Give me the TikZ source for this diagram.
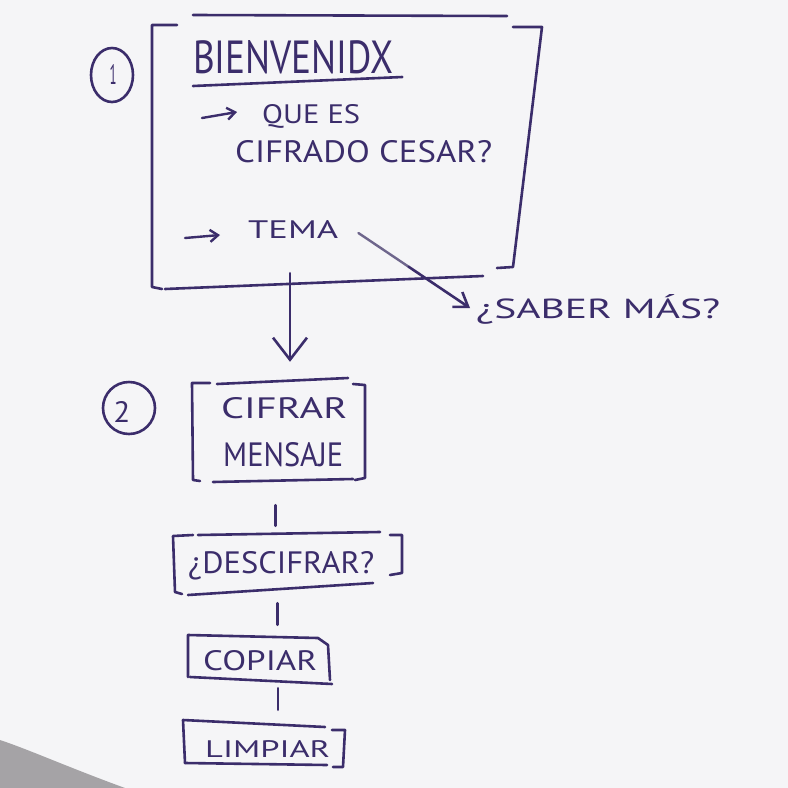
\documentclass[tikz,border=0pt]{standalone}
\usepackage{fontspec}
\setmainfont{PT Sans}
\usetikzlibrary{arrows.meta,calc}
\definecolor{ink}{RGB}{59,45,107}
\definecolor{fade}{RGB}{110,102,140}
\definecolor{paper}{RGB}{245,245,247}
\definecolor{shadow}{RGB}{165,163,166}
% a word of hand lettering, stretched to a given width and cap height
\newcommand\lettering[3]{\resizebox{#1pt}{#2pt}{#3}}
\begin{document}
\begin{tikzpicture}[x=1pt,y=-1pt,
  ink line/.style={draw=ink, line width=2.6pt, line cap=round, line join=round},
  hand/.style={inner sep=0pt, text=ink, anchor=base west},
  frame/.style={inner sep=0pt, draw=none},
  bullet/.style={ink line, line width=2.4pt, -{Straight Barb[length=8pt,width=12pt]}},
  link/.style={ink line}]
% paper
\fill[paper] (0,0) rectangle (788,788);
\fill[shadow] (0,740) .. controls (30,750) and (70,768) .. (125,788) -- (0,788) -- cycle;
\useasboundingbox (0,0) rectangle (788,788);

% ---------- screen 1: welcome ----------
\node[frame, minimum width=390pt, minimum height=271pt] (boxW) at (347,152.5) {};
\draw[ink line] (177,25) -- (152,25) -- (152,287) -- (162,289);
\draw[ink line] (193,15) -- (507,16);
\draw[ink line] (513,27) -- (542,27) -- (513,267) -- (497,268);
\draw[ink line] (165,289) -- (483,276);

\draw[ink line] (112,75) ellipse [x radius=21, y radius=27];
\node[hand, anchor=center] (one) at (113,74) {\lettering{7}{20}{1}};

\node[hand] (title) at (193,73) {\lettering{200}{33}{BIENVENIDX}};
\draw[ink line] ($(title.base west)+(0,13)$) -- ($(title.base east)+(9,4)$);

\coordinate (b1) at (202,118);
\coordinate (b1e) at (237,112);
\draw[bullet] (b1) -- (b1e);
\node[hand] (que) at (262,123) {\lettering{98}{19}{QUE ES}};
\node[hand] (cifrado) at (235,162) {\lettering{257}{22}{CIFRADO CESAR?}};

\coordinate (b2) at (185,238);
\coordinate (b2e) at (220,235);
\draw[bullet] (b2) -- (b2e);
\node[hand] (tema) at (248,238) {\lettering{90}{18}{TEMA}};

\node[hand] (saber) at (476,318) {\lettering{244}{24}{¿SABER MÁS?}};
\coordinate (temaTail) at ($(tema.east)+(20,4)$);
\coordinate (saberTip) at ($(saber.base west)+(-6,-10)$);
\draw[ink line, draw=fade, line width=2.4pt] (temaTail) -- ($(temaTail)!0.45!(saberTip)$);
\draw[ink line, -{Straight Barb[length=13pt,width=18pt]}]
  ($(temaTail)!0.45!(saberTip)$) -- (saberTip);

% ---------- screen 2: actions ----------
\draw[ink line] (129,408) circle [radius=26];
\node[hand, anchor=center] (two) at (122,412) {\lettering{17}{21}{2}};

\node[frame, minimum width=173pt, minimum height=102pt] (boxC) at (278.5,431) {};
\draw[ink line] (210,383) -- (192,383) -- (193,480) -- (200,481);
\draw[ink line] (217,384) -- (348,378);
\draw[ink line] (353,384) -- (365,385) -- (365,478) -- (355,480);
\draw[ink line] (213,482) -- (353,479);
\node[hand] (cifrar) at (221,418) {\lettering{126}{21}{CIFRAR}};
\node[hand] (mensaje) at (223,466) {\lettering{120}{24}{MENSAJE}};

\node[frame, minimum width=229pt, minimum height=63pt] (boxD) at (287.5,563.5) {};
\draw[ink line] (193,535) -- (173,536) -- (175,592) -- (182,594);
\draw[ink line] (198,535) -- (380,532);
\draw[ink line] (390,535) -- (402,535) -- (402,573) -- (390,575);
\draw[ink line] (188,595) -- (373,583);
\node[hand] (descifrar) at (188,573) {\lettering{186}{22}{¿DESCIFRAR?}};

\node[frame, minimum width=143pt, minimum height=48pt] (boxCo) at (259.5,659) {};
\draw[ink line] (188,677) -- (188,635) -- (318,638) -- (328,645) -- (330,680);
\draw[ink line] (190,677) -- (332,684);
\node[hand] (copiar) at (203,670) {\lettering{114}{20}{COPIAR}};

\node[frame, minimum width=162pt, minimum height=47pt] (boxL) at (264,743.5) {};
\draw[ink line] (325,727) -- (183,720) -- (185,763);
\draw[ink line] (185,763) -- (327,765);
\draw[ink line] (332,730) -- (345,730) -- (343,767) -- (333,767);
\node[hand] (limpiar) at (205,757) {\lettering{125}{17}{LIMPIAR}};

% ---------- flow between the frames ----------
\coordinate (drop) at (290,0);
\draw[ink line, -{Straight Barb[length=22pt,width=34pt]}]
  ($(boxW.south -| drop)+(0,-15)$) -- ($(boxC.north -| drop)+(0,-18)$);
\draw[link] ($(boxC.south)+(-3,23)$) -- ($(boxD.north)+(-12,-6)$);
\draw[link] ($(boxD.south)+(-10,8)$) -- ($(boxCo.north)+(18,-10)$);
\draw[link] ($(boxCo.south)+(18.5,5)$) -- ($(boxL.north)+(14,-10)$);
\end{tikzpicture}
\end{document}
